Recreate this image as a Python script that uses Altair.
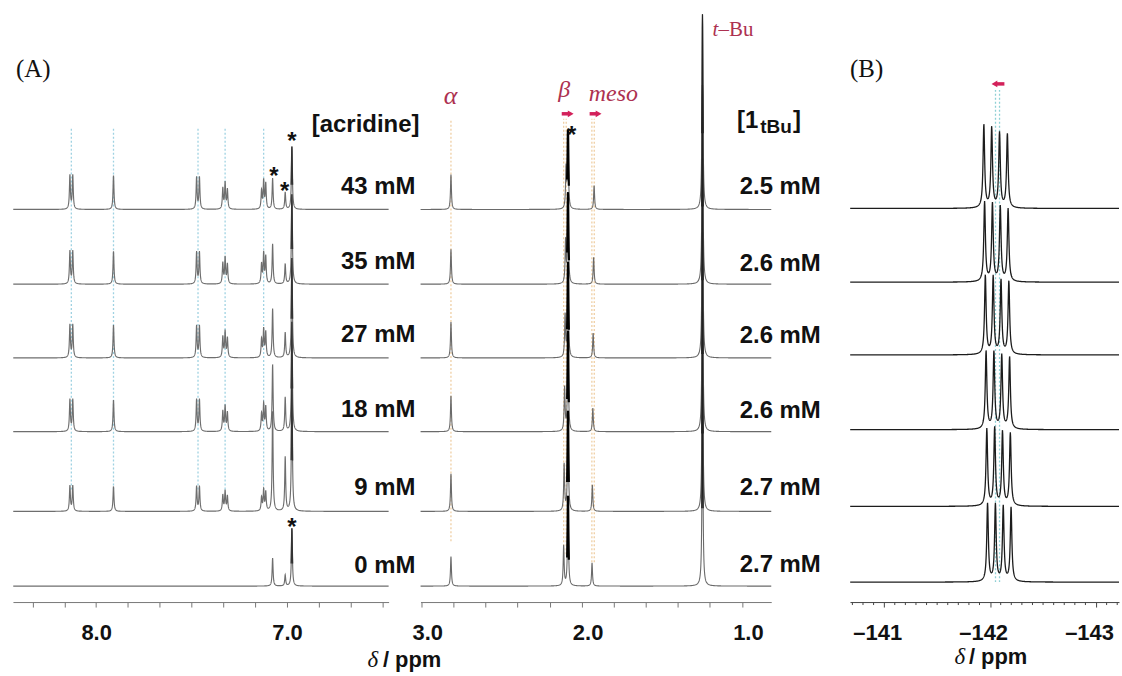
import numpy as np
import pandas as pd
import altair as alt

# ---------------------------------------------------------------- data
# stacked spectra, bottom to top: acridine 0, 9, 18, 27, 35, 43 mM
ACRIDINE_LABELS = ["0 mM", "9 mM", "18 mM", "27 mM", "35 mM", "43 mM"]
HOST_LABELS = ["2.7 mM", "2.7 mM", "2.6 mM", "2.6 mM", "2.6 mM", "2.5 mM"]

# vertical offsets of each trace (intensity units)
OFFSET_A = [16, 91, 171, 245, 319, 394]
OFFSET_C = [20, 96, 173, 248, 321, 395]

# (A) aromatic region: acridine multiplets
ACR_PPM = [8.130, 7.909, 7.466, 7.324, 7.122]
ACR_SPLIT = [[-0.0075, 0.0075], [0.0], [-0.0075, 0.0075],
             [-0.012, 0.0, 0.012], [-0.011, 0.0, 0.011]]
ACR_WEIGHT = [[1, 1], [1], [1, 1], [0.75, 1, 0.8], [0.9, 1, 0.65]]
ACR_HEIGHT = [
    [0, 25.5, 32, 33, 33, 34],
    [0, 25, 31.7, 33, 33, 34],
    [0, 25, 32, 32, 32, 32],
    [0, 20, 25, 26, 26, 26],
    [0, 20.7, 26.7, 27.7, 30, 28],
]
# toluene-d8 residual aromatic signals (*)
TOL_AR_PPM = [7.075, 7.009, 6.974]
TOL_AR_HEIGHT = [
    [28, 100, 67, 49, 40, 31],
    [11, 54, 34, 25, 20, 17],
    [58, 130, 110, 100, 90, 63],
]

# (A) aliphatic region
ALPHA_PPM = 2.815
ALPHA_H = [29.6, 37.7, 36, 36, 35, 35]
BETA_PPM = [2.112, 2.109, 2.106, 2.103, 2.100, 2.097]
BETA_H = [40, 46.7, 43.7, 42, 42, 40]
TOL_ME_PPM = 2.085
TOL_ME_H = [90, 100, 100, 95, 90, 77]
MESO_PPM = [1.935, 1.933, 1.930, 1.928, 1.925, 1.922]
MESO_H = [23.3, 26.7, 23.7, 25, 27, 24]
TBU_PPM = 1.246
TBU_H = [200, 200, 200, 200, 200, 196]

# (B) 19F quartet
F_CENTER = [-142.087, -142.080, -142.073, -142.066, -142.059, -142.052]
F_SPLIT = [0.111, 0.037, -0.037, -0.111]
F_HEIGHT = [
    [78, 77, 75, 74],
    [77, 78, 74, 73],
    [78, 77, 74, 72],
    [79, 78, 74, 73],
    [80, 78, 75, 73],
    [83, 80, 75, 74],
]

# axes
LEFT_DOMAIN = [8.436, 6.467]
MID_DOMAIN = [3.005, 0.817]
RIGHT_DOMAIN = [-140.677, -143.217]
LEFT_TICKS = [8.333, 8.167, 8.0, 7.833, 7.667, 7.5, 7.333, 7.167, 7.0, 6.833, 6.667, 6.5]
MID_TICKS = [3.0, 2.8, 2.6, 2.4, 2.2, 2.0, 1.8, 1.6, 1.4, 1.2, 1.0]
RIGHT_MAJOR = [-141, -142, -143]
RIGHT_MINOR = [-140.7, -140.8, -140.9, -141.1, -141.2, -141.3, -141.4, -141.5,
               -141.6, -141.7, -141.8, -141.9, -142.1, -142.2, -142.3, -142.4,
               -142.5, -142.6, -142.7, -142.8, -142.9, -143.1, -143.2]

# guide lines (ppm, bottom, top)
LEFT_GUIDES = [(p, 113, 476) for p in ACR_PPM]
MID_GUIDES = [(2.815, 61, 485), (2.112, 48, 485), (2.096, 48, 485),
              (1.936, 40, 485), (1.921, 40, 485)]
RIGHT_GUIDES = [(-142.051, 20, 515), (-142.089, 20, 515)]

H = 603
RED = "#d3215a"
LABEL_RED = "#ad3150"


# ---------------------------------------------------------------- helpers
def trace(lo, hi, step, lines, base):
    """Sum of Lorentzian lines sampled on a grid refined around each line."""
    parts = [np.arange(lo, hi, step)]
    rel = np.linspace(-6, 6, 49)
    for c, h, w in lines:
        parts.append(c + rel * w / 2)
    g = np.unique(np.concatenate(parts))
    g = g[(g >= lo) & (g <= hi)]
    y = np.full_like(g, float(base))
    for c, h, w in lines:
        y += h / (1 + ((g - c) / (w / 2)) ** 2)
    return g, y


def frame(rows):
    return pd.DataFrame(rows)


def stack(domain, step, line_sets, offsets):
    lo, hi = min(domain), max(domain)
    out = []
    for i, lines in enumerate(line_sets):
        g, y = trace(lo, hi, step, lines, offsets[i])
        out.append(pd.DataFrame({"x": g, "y": y, "s": i}))
    return pd.concat(out, ignore_index=True)


def xenc(domain, axis):
    return alt.X("x:Q", scale=alt.Scale(domain=domain, nice=False, zero=False), axis=axis)


YENC = alt.Y("y:Q", scale=alt.Scale(domain=[0, H], nice=False, zero=False), axis=None)


def make_axis(values, expr, offset=0, color="#777"):
    return alt.Axis(values=values, labelExpr=expr, title=None, grid=False,
                    domainColor=color, tickColor=color, domainWidth=1, tickWidth=1,
                    tickSize=5, labelFont="Liberation Sans", labelFontSize=22,
                    labelFontWeight="bold", labelColor="#111", labelPadding=16,
                    labelOffset=offset, labelOverlap=False, labelFlush=False,
                    labelBound=False)


def texts(rows, X, **mark):
    base = dict(font="Liberation Sans", fontSize=24, fontWeight="bold",
                color="#111", baseline="alphabetic")
    base.update(mark)
    return alt.Chart(frame(rows)).mark_text(**base).encode(x=X, y=YENC, text="t:N")


# ---------------------------------------------------------------- left panel
FW_A = 0.006
left_sets = []
for i in range(6):
    lines = []
    for m, c in enumerate(ACR_PPM):
        h = ACR_HEIGHT[m][i]
        if h > 0:
            for d, wgt in zip(ACR_SPLIT[m], ACR_WEIGHT[m]):
                lines.append((c + d, h * wgt, FW_A))
    for k, c in enumerate(TOL_AR_PPM):
        lines.append((c, TOL_AR_HEIGHT[k][i], FW_A))
    left_sets.append(lines)
left_df = stack(LEFT_DOMAIN, 0.0025, left_sets, OFFSET_A)

XA = xenc(LEFT_DOMAIN, make_axis(
    LEFT_TICKS, "abs(datum.value-8)<0.01 ? '8.0' : abs(datum.value-7)<0.01 ? '7.0' : ''"))

left = alt.layer(
    alt.Chart(frame([{"x": p, "y": a, "y2": b} for p, a, b in LEFT_GUIDES]))
    .mark_rule(color="#9fd2e2", strokeDash=[2, 2], strokeWidth=1.3)
    .encode(x=XA, y=YENC, y2="y2:Q"),
    alt.Chart(left_df).mark_line(color="#6e6e6e", strokeWidth=1.15)
    .encode(x=XA, y=YENC, detail="s:N"),
    alt.Chart(left_df[(left_df.x - 6.974).abs() < 0.004]).mark_line(color="#333", strokeWidth=1.3)
    .encode(x=XA, y=YENC, detail="s:N"),
    texts([{"x": 6.3264, "y": yy, "t": t} for yy, t in
           zip([29.5, 107.5, 185.5, 260.5, 334.5, 409.5], ACRIDINE_LABELS)], XA, align="right"),
    texts([{"x": 6.3055, "y": 472, "t": "[acridine]"}], XA, align="right"),
    texts([{"x": 6.974, "y": 455, "t": "*"}, {"x": 7.068, "y": 420, "t": "*"},
           {"x": 7.012, "y": 404, "t": "*"}, {"x": 6.974, "y": 67, "t": "*"}], XA,
          align="center", fontSize=24),
    texts([{"x": 8.420, "y": 527, "t": "(A)"}], XA, align="left", font="Liberation Serif",
          fontSize=25, fontWeight="normal"),
    texts([{"x": 6.578, "y": -65, "t": "δ"}], XA, align="left", font="Liberation Serif",
          fontStyle="italic", fontWeight="normal", fontSize=23),
    texts([{"x": 6.497, "y": -65, "t": "/ ppm"}], XA, align="left", fontSize=22),
).properties(width=377, height=H)

# ---------------------------------------------------------------- middle panel
FW_B = 0.007
mid_sets = []
for i in range(6):
    mid_sets.append([
        (ALPHA_PPM, ALPHA_H[i], FW_B),
        (BETA_PPM[i], BETA_H[i], FW_B),
        (TOL_ME_PPM, TOL_ME_H[i], FW_B),
        (MESO_PPM[i], MESO_H[i], FW_B),
        (TBU_PPM, TBU_H[i], FW_B),
    ])
mid_df = stack(MID_DOMAIN, 0.0025, mid_sets, OFFSET_A)

XB = xenc(MID_DOMAIN, make_axis(
    MID_TICKS, "abs(datum.value-round(datum.value))<0.01 ? format(datum.value,'.1f') : ''",
    offset=6))

mid = alt.layer(
    alt.Chart(frame([{"x": p, "y": a, "y2": b} for p, a, b in MID_GUIDES]))
    .mark_rule(color="#efcfa4", strokeDash=[2, 2], strokeWidth=1.3)
    .encode(x=XB, y=YENC, y2="y2:Q"),
    alt.Chart(mid_df).mark_line(color="#6a6a6a", strokeWidth=1.1)
    .encode(x=XB, y=YENC, detail="s:N"),
    alt.Chart(mid_df[(mid_df.x - TOL_ME_PPM).abs() < 0.006]).mark_line(color="#000", strokeWidth=2.2)
    .encode(x=XB, y=YENC, detail="s:N"),
    alt.Chart(mid_df[(mid_df.x - TBU_PPM).abs() < 0.005]).mark_line(color="#222", strokeWidth=1.2)
    .encode(x=XB, y=YENC, detail="s:N"),
    # shift arrows
    alt.Chart(frame([{"x": 2.124, "x2": 2.078, "y": 490}, {"x": 1.950, "x2": 1.905, "y": 490}]))
    .mark_rule(color=RED, strokeWidth=3.5).encode(x=XB, x2="x2:Q", y=YENC),
    alt.Chart(frame([{"x": 2.068, "y": 490}, {"x": 1.894, "y": 490}]))
    .mark_point(shape="triangle-right", filled=True, color=RED, size=45, opacity=1)
    .encode(x=XB, y=YENC),
    texts([{"x": 0.508, "y": yy, "t": t} for yy, t in
           zip([30.5, 107.5, 184.5, 259.5, 332.5, 409.5], HOST_LABELS)], XB, align="right"),
    texts([{"x": 1.030, "y": 476, "t": "[1"}], XB, align="left"),
    texts([{"x": 0.8854, "y": 471, "t": "tBu"}], XB, align="left", fontSize=19),
    texts([{"x": 0.681, "y": 476, "t": "]"}], XB, align="left"),
    texts([{"x": 2.062, "y": 461, "t": "*"}], XB, align="center"),
    texts([{"x": 2.817, "y": 500, "t": "α"}], XB, align="center", font="Liberation Serif",
          fontStyle="italic", fontWeight="normal", fontSize=26, color=LABEL_RED),
    texts([{"x": 2.108, "y": 507, "t": "β"}], XB, align="center", font="Liberation Serif",
          fontStyle="italic", fontWeight="normal", fontSize=24, color=LABEL_RED),
    texts([{"x": 1.802, "y": 503, "t": "meso"}], XB, align="center", font="Liberation Serif",
          fontStyle="italic", fontWeight="normal", fontSize=24, color=LABEL_RED),
    texts([{"x": 1.183, "y": 568, "t": "t"}], XB, align="left", font="Liberation Serif",
          fontStyle="italic", fontWeight="normal", fontSize=21, color=LABEL_RED),
    texts([{"x": 1.1455, "y": 568, "t": "–Bu"}], XB, align="left", font="Liberation Serif",
          fontWeight="normal", fontSize=21, color=LABEL_RED),
).properties(width=352, height=H)

# ---------------------------------------------------------------- gap between (A) and (B)
spacer = (
    alt.Chart(frame([{"x": 0, "y": 0}]))
    .mark_point(opacity=0)
    .encode(x=alt.X("x:Q", axis=None), y=alt.Y("y:Q", axis=None))
    .properties(width=15, height=H)
)

# ---------------------------------------------------------------- right panel
FW_C = 0.018
right_sets = []
for i in range(6):
    right_sets.append([(F_CENTER[i] + d, F_HEIGHT[i][j], FW_C) for j, d in enumerate(F_SPLIT)])
right_df = stack(RIGHT_DOMAIN, 0.003, right_sets, OFFSET_C)

XC = xenc(RIGHT_DOMAIN, make_axis(RIGHT_MAJOR, "'–' + format(abs(datum.value), 'd')",
                                  offset=-7, color="#444"))

right = alt.layer(
    alt.Chart(frame([{"x": p, "y": a, "y2": b} for p, a, b in RIGHT_GUIDES]))
    .mark_rule(color="#8fd0d4", strokeDash=[2, 2], strokeWidth=1.3)
    .encode(x=XC, y=YENC, y2="y2:Q"),
    alt.Chart(right_df).mark_line(color="#1c1c1c", strokeWidth=1.3)
    .encode(x=XC, y=YENC, detail="s:N"),
    alt.Chart(frame([{"x": v, "y": 0, "y2": -3} for v in RIGHT_MINOR]))
    .mark_rule(color="#444", strokeWidth=1).encode(x=XC, y=YENC, y2="y2:Q"),
    alt.Chart(frame([{"x": -142.060, "x2": -142.135, "y": 520}]))
    .mark_rule(color=RED, strokeWidth=3.5).encode(x=XC, x2="x2:Q", y=YENC),
    alt.Chart(frame([{"x": -142.041, "y": 520}]))
    .mark_point(shape="triangle-left", filled=True, color=RED, size=45, opacity=1)
    .encode(x=XC, y=YENC),
    texts([{"x": -140.677, "y": 527, "t": "(B)"}], XC, align="left", font="Liberation Serif",
          fontSize=25, fontWeight="normal"),
    texts([{"x": -141.665, "y": -62, "t": "δ"}], XC, align="left", font="Liberation Serif",
          fontStyle="italic", fontWeight="normal", fontSize=23),
    texts([{"x": -141.800, "y": -62, "t": "/ ppm"}], XC, align="left", fontSize=22),
).properties(width=270, height=H)

chart = (
    alt.hconcat(left, mid, spacer, right, spacing=32, bounds="flush")
    .resolve_scale(x="independent", y="independent")
    .properties(padding={"left": 10, "top": 0, "right": 0, "bottom": 0}, background="white")
    .configure_view(stroke=None)
)

chart.save("out.html", embed_options={"renderer": "svg", "actions": False})
